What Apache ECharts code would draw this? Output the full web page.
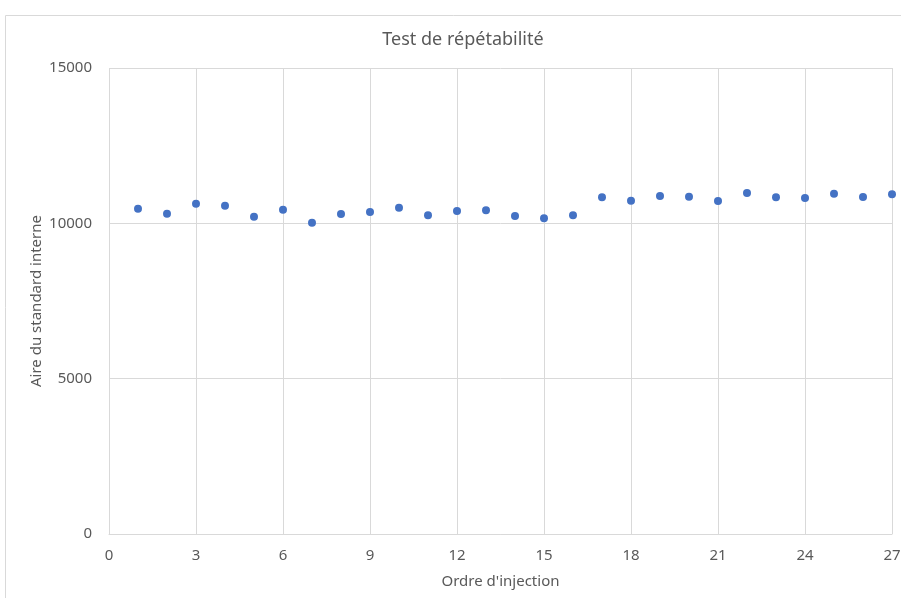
<!DOCTYPE html>
<html><head><meta charset="utf-8">
<script src="https://cdn.jsdelivr.net/npm/echarts@6/dist/echarts.min.js"></script>
<style>html,body{margin:0;padding:0;background:#fff}#c{width:901px;height:598px}</style>
</head><body><div id="c"></div>
<script>
const injectionOrder = [1,2,3,4,5,6,7,8,9,10,11,12,13,14,15,16,17,18,19,20,21,22,23,24,25,26,27];
const areaValues = [10471,10310,10632,10567,10213,10439,10020,10300,10365,10503,10258,10397,10419,10236,10162,10258,10838,10724,10880,10858,10719,10976,10838,10815,10954,10847,10934];
const xTicks = [0,3,6,9,12,15,18,21,24,27];
const yTicks = [0,5000,10000,15000];
const titleText = "Test de répétabilité";
const xName = "Ordre d'injection";
const yName = "Aire du standard interne";

const chart = echarts.init(document.getElementById('c'), null, {renderer:'canvas'});
const font = "'Noto Sans', sans-serif";
const txt = '#595959', grid = '#d9d9d9';
chart.setOption({
  animation:false,
  textStyle:{fontFamily:font},
  graphic:[{type:'rect',shape:{x:5.5,y:15.5,width:1000,height:1000},style:{fill:'none',stroke:'#d9d9d9',lineWidth:1},silent:true}],
  title:{text:titleText,left:458,top:26,textAlign:'center',textStyle:{fontFamily:font,fontSize:18,fontWeight:'normal',color:txt}},
  grid:{left:109,right:9,top:68,bottom:64,containLabel:false,outerBoundsMode:'none'},
  xAxis:{type:'value',min:xTicks[0],max:xTicks[xTicks.length-1],interval:3,
    name:xName,nameLocation:'middle',nameGap:40,nameMoveOverlap:false,nameTextStyle:{fontFamily:font,fontSize:15,color:txt},
    axisLine:{show:true,lineStyle:{color:grid}},axisTick:{show:false},
    axisLabel:{color:txt,fontSize:15,fontFamily:font,margin:14},
    splitLine:{show:true,lineStyle:{color:grid}}},
  yAxis:{type:'value',min:yTicks[0],max:yTicks[yTicks.length-1],interval:5000,
    name:yName,nameLocation:'middle',nameGap:65,nameMoveOverlap:false,nameTextStyle:{fontFamily:font,fontSize:15,color:txt},
    axisLine:{show:false},axisTick:{show:false},
    axisLabel:{color:txt,fontSize:15,fontFamily:font,margin:17,formatter:v=>String(v)},
    splitLine:{show:true,lineStyle:{color:grid}}},
  series:[{type:'scatter',symbol:'circle',symbolSize:8,itemStyle:{color:'#4472C4',opacity:1},
    data:injectionOrder.map((x,i)=>[x,areaValues[i]])}]
});
</script></body></html>
